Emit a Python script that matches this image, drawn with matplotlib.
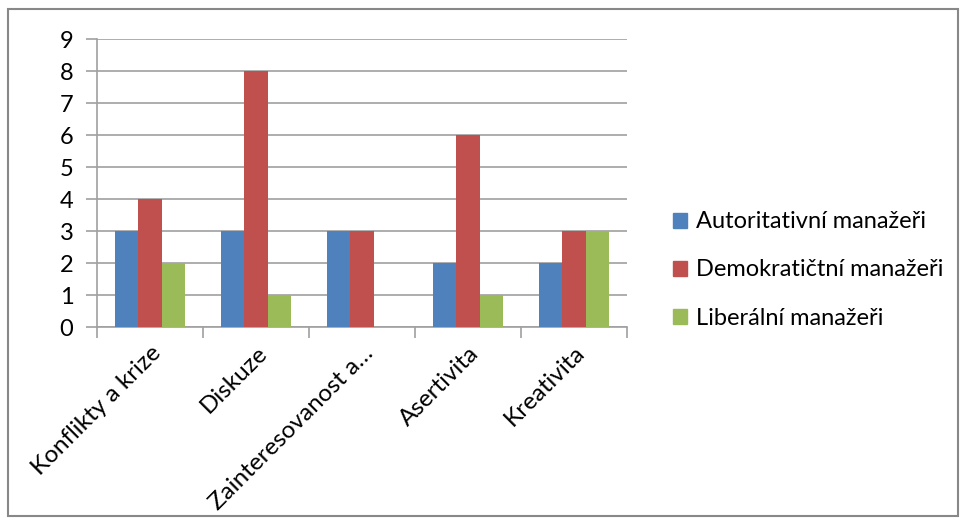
import matplotlib
matplotlib.use("Agg")
import matplotlib.pyplot as plt
import numpy as np
from matplotlib.patches import Rectangle

categories = ["Konflikty a krize", "Diskuze", "Zainteresovanost a…", "Asertivita", "Kreativita"]
series_names = ["Autoritativní manažeři", "Demokratičtní manažeři", "Liberální manažeři"]
autoritativni = [3, 3, 3, 2, 2]
demokraticti = [4, 8, 3, 6, 3]
liberalni = [2, 1, 0, 1, 3]
colors = ["#4F81BD", "#C0504D", "#9BBB59"]
yticks = list(range(0, 10))

plt.rcParams["font.family"] = ["Lato", "DejaVu Sans"]

W, H = 966, 524
fig = plt.figure(figsize=(W / 100, H / 100), dpi=100)

# axes placed in pixel coordinates
x0, x1 = 97, 627
y_top, y_bot = 39, 327
ax = fig.add_axes([x0 / W, 1 - y_bot / H, (x1 - x0) / W, (y_bot - y_top) / H])

grid_c = "#A0A0A0"
fs = 17
n = len(categories)
x = np.arange(n)
bw = 1 / 4.5
for i, (vals, name) in enumerate(zip([autoritativni, demokraticti, liberalni], series_names)):
    ax.bar(x + (i - 1) * bw, vals, width=bw, color=colors[i], label=name, zorder=3)

ax.set_xlim(-0.5, n - 0.5)
ax.set_ylim(0, 9)
ax.set_yticks(yticks)
ax.yaxis.grid(True, color=grid_c, linewidth=1.2, zorder=0)
ax.set_axisbelow(True)
for s in ["top", "right"]:
    ax.spines[s].set_visible(False)
ax.spines["left"].set_color(grid_c)
ax.spines["bottom"].set_color(grid_c)
ax.spines["left"].set_linewidth(1.2)
ax.spines["bottom"].set_linewidth(1.2)

ax.tick_params(axis="y", direction="out", length=8, width=1.2, color=grid_c,
               labelsize=fs, pad=9)
ax.set_xticks(np.arange(-0.5, n, 1.0))
ax.set_xticklabels([])
ax.tick_params(axis="x", direction="out", length=8, width=1.2, color=grid_c)
ax.set_xticks(x, minor=True)
ax.set_xticklabels(categories, minor=True, rotation=45, ha="right", va="top",
                   rotation_mode="anchor", fontsize=fs + 0.5)
ax.tick_params(axis="x", which="minor", length=0, pad=11)

handles = [Rectangle((0, 0), 1, 1, color=c) for c in colors]
fig.legend(handles, series_names, loc="center left", bbox_to_anchor=(652 / W, 1 - 270 / H),
           frameon=False, fontsize=fs, handlelength=0.6, handleheight=0.6,
           handletextpad=0.35, labelspacing=1.15)

# outer chart border
fig.add_artist(Rectangle((8 / W, 1 - 516 / H), (958 - 8) / W, (516 - 9) / H,
                         transform=fig.transFigure, fill=False,
                         edgecolor="#888888", linewidth=1.5))

fig.savefig("out.png", dpi=100)
